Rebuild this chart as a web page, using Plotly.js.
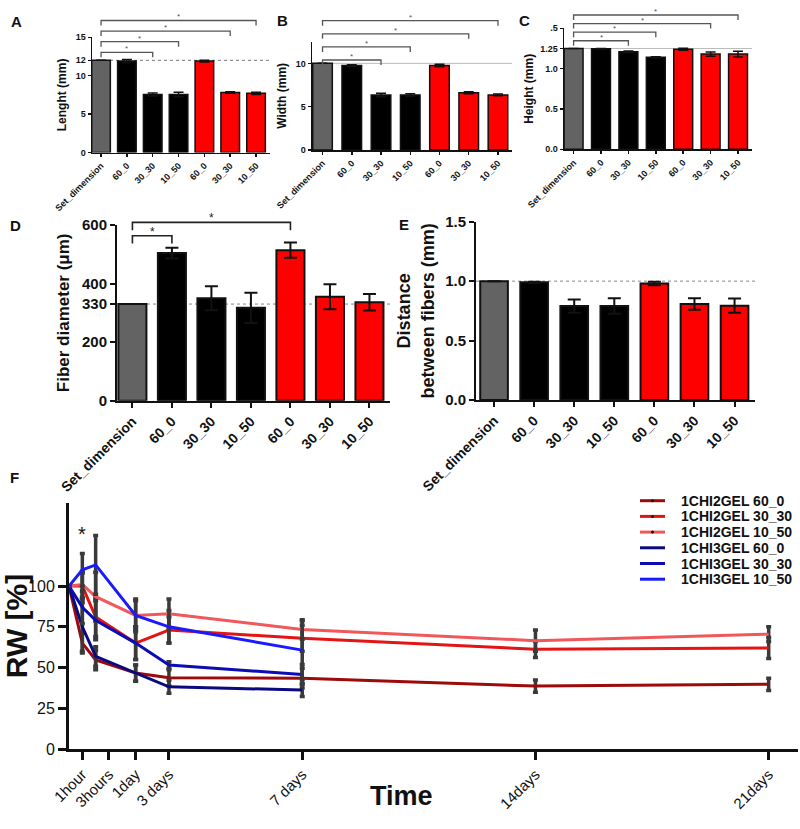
<!DOCTYPE html>
<html>
<head>
<meta charset="utf-8">
<script src="https://cdn.plot.ly/plotly-3.0.1.min.js"></script>
<style>
  html, body { margin: 0; padding: 0; background: #fff; }
  #fig { width: 800px; height: 829px; }
</style>
</head>
<body>
<div id="fig"></div>
<script>
// ── Data ─────────────────────────────────────────────────────────────────────
const categories = ['Set_dimension', '60_0', '30_30', '10_50', '60_0', '30_30', '10_50'];

const lengthMean = [12, 11.9, 7.55, 7.55, 11.9, 7.8, 7.7];
const lengthErr  = [null, 0.2, 0.2, 0.3, 0.1, 0.1, 0.15];
const widthMean  = [10, 9.75, 6.35, 6.35, 9.75, 6.6, 6.35];
const widthErr   = [null, 0.1, 0.2, 0.15, 0.15, 0.12, 0.1];
const heightMean = [1.25, 1.245, 1.21, 1.14, 1.24, 1.18, 1.18];
const heightErr  = [null, 0.005, 0.01, 0.008, 0.012, 0.025, 0.035];
const diamMean   = [330, 504, 350, 317, 514, 355, 336];
const diamErr    = [null, 18, 41, 52, 26, 43, 28];
const distMean   = [1.0, 0.99, 0.79, 0.79, 0.98, 0.807, 0.793];
const distErr    = [null, 0.005, 0.055, 0.065, 0.015, 0.048, 0.06];

// set dimensions (reference lines)
const setLength = 12, setWidth = 10, setHeight = 1.25, setDiam = 330, setDist = 1.0;

// significance pairs (bar indices)
const sigABC = [[0, 2], [0, 3], [0, 5], [0, 6]];
const sigD   = [[0, 1], [0, 4]];

// panel F
const timeLabels = ['1hour', '3hours', '1day', '3 days', '7 days', '14days', '21days'];
const timeTicks  = [0.4, 1.2, 2, 3, 7, 14, 21];
const timePoints = [0, 0.4, 0.8, 2, 3, 7, 14, 21];

const seriesNames = ['1CHI2GEL 60_0', '1CHI2GEL 30_30', '1CHI2GEL 10_50',
                     '1CHI3GEL 60_0', '1CHI3GEL 30_30', '1CHI3GEL 10_50'];
const rwMean = [
  [100, 65, 54.6, 46.6, 43.7, 43.5, 38.6, 39.7],
  [100, 100, 81, 65, 73, 68, 61.2, 62],
  [100, 101, 93.5, 82, 83, 73.4, 66.5, 70.5],
  [100, 75, 56.8, 46.6, 38.2, 36.2],
  [100, 87, 79, 65, 51.5, 45.8],
  [100, 110, 113, 82, 75, 60.7]
];
const rwErr = [
  [null, 6, 6, 5, 5, 6, 3.7, 3.8],
  [null, 8, 12, 10, 8, 8, 5, 6.5],
  [null, 8, 15, 9, 9, 6, 6.5, 4.5],
  [null, 15, 6, 5, 4, 4],
  [null, 10, 12, 10, 2, 6],
  [null, 10, 18, 10, 10, 18]
];
const seriesColors = ['#9c0a0a', '#e41414', '#f0585a', '#0a0a80', '#0c0cb4', '#1a1aff'];

// ── Helpers ─────────────────────────────────────────────────────────────────
const W = 800, H = 829;
const FONT = 'Liberation Sans, Arial, sans-serif';
const px = x => x / W;
const py = y => 1 - y / H;

const traces = [];
const shapes = [];
const annotations = [];
const layout = {
  width: W, height: H,
  margin: { l: 0, r: 0, t: 0, b: 0 },
  paper_bgcolor: '#fff', plot_bgcolor: 'rgba(0,0,0,0)',
  font: { family: FONT, color: '#111' },
  showlegend: false,
  bargap: 0
};

function axisIds(n) {
  const s = n === 1 ? '' : String(n);
  return { x: 'x' + s, y: 'y' + s, xa: 'xaxis' + s, ya: 'yaxis' + s };
}

function lineAxis(lw, tl) {
  return {
    showline: true, linecolor: '#111', linewidth: lw,
    ticks: 'outside', ticklen: tl, tickwidth: lw, tickcolor: '#111',
    showgrid: false, zeroline: false, automargin: false, fixedrange: true
  };
}

// ── Bar panels A–E ───────────────────────────────────────────────────────────
function barPanel(n, vals, errs, o) {
  const id = axisIds(n);
  const colors = vals.map((_, i) => i === 0 ? '#636363' : (i < 4 ? '#000' : '#ff0000'));
  traces.push({
    type: 'bar', x: categories.map((_, i) => i), y: vals,
    xaxis: id.x, yaxis: id.y, width: o.barW,
    marker: { color: colors, line: { color: '#111', width: o.lw } },
    error_y: { type: 'data', array: errs, visible: true, color: '#111', thickness: o.lw, width: o.errW },
    hoverinfo: 'skip'
  });
  layout[id.xa] = Object.assign(lineAxis(o.lw, o.tl), {
    domain: [px(o.box[0]), px(o.box[1])], range: o.xr, anchor: id.y,
    tickvals: categories.map((_, i) => i), ticktext: categories, tickangle: -45,
    tickfont: { size: o.xtf, weight: 'bold', family: FONT, color: '#111' }
  });
  layout[id.ya] = Object.assign(lineAxis(o.lw, o.tl), {
    domain: [py(o.box[3]), py(o.box[2])], range: [0, o.ymax], anchor: id.x,
    tickvals: o.yticks, ticktext: o.yticktext,
    tickfont: { size: o.ytf, weight: 'bold', family: FONT, color: '#111' },
    title: { text: o.title, font: { size: o.titleSize, weight: 'bold', family: FONT, color: '#111' }, standoff: o.standoff }
  });
  shapes.push({
    type: 'line', xref: id.x + ' domain', yref: id.y, x0: 0, x1: 1, y0: o.ref, y1: o.ref,
    line: { color: o.refColor, width: 1, dash: o.refDash }, layer: 'below'
  });
  if (o.sig) {
    o.sig.forEach(([a, b], k) => {
      const y = o.sigBase + k * o.sigStep;
      shapes.push({
        type: 'path', xref: id.x, yref: id.y + ' domain',
        path: `M ${a},${y - o.sigDrop} L ${a},${y} L ${b},${y} L ${b},${y - o.sigDrop}`,
        line: { color: o.sigColor, width: o.sigW }
      });
      annotations.push({
        xref: id.x, yref: id.y + ' domain', x: (a + b) / 2, y: y,
        text: '*', showarrow: false, yanchor: 'bottom', yshift: o.starShift,
        font: { size: o.starSize, color: o.sigColor, family: FONT }
      });
    });
  }
}

barPanel(1, lengthMean, lengthErr, {
  box: [92, 270, 37.3, 152.5], xr: [-0.35, 6.54], ymax: 15, barW: 0.72,
  yticks: [0, 5, 10, 12, 15], yticktext: ['0', '5', '10', '12', '15'],
  title: 'Lenght (mm)', titleSize: 12, standoff: 6, xtf: 9, ytf: 9,
  lw: 1.5, tl: 3, errW: 5, ref: setLength, refColor: '#777', refDash: 'dot',
  sig: sigABC, sigBase: 0.87, sigStep: 0.092, sigDrop: 0.043, sigColor: '#555', sigW: 1.3,
  starSize: 8, starShift: -3
});
barPanel(2, widthMean, widthErr, {
  box: [312, 512, 41.7, 150], xr: [-0.36, 6.48], ymax: 12.5, barW: 0.67,
  yticks: [0, 5, 10], yticktext: ['0', '5', '10'],
  title: 'Width (mm)', titleSize: 12, standoff: 6, xtf: 9, ytf: 9,
  lw: 1.5, tl: 3, errW: 5, ref: setWidth, refColor: '#bbb', refDash: 'solid',
  sig: sigABC, sigBase: 0.831, sigStep: 0.121, sigDrop: 0.046, sigColor: '#555', sigW: 1.3,
  starSize: 8, starShift: -3
});
barPanel(3, heightMean, heightErr, {
  box: [564, 752, 28.3, 149.3], xr: [-0.35, 6.51], ymax: 1.5, barW: 0.69,
  yticks: [0, 0.5, 1.0, 1.25, 1.5], yticktext: ['0.0', '0.5', '1.0', '1.25', '.5'],
  title: 'Height (mm)', titleSize: 12, standoff: 4, xtf: 9, ytf: 9,
  lw: 1.5, tl: 3, errW: 5, ref: setHeight, refColor: '#bbb', refDash: 'solid',
  sig: sigABC, sigBase: 0.897, sigStep: 0.071, sigDrop: 0.041, sigColor: '#555', sigW: 1.3,
  starSize: 8, starShift: -3
});
barPanel(4, diamMean, diamErr, {
  box: [117, 390, 225, 400.7], xr: [-0.39, 6.52], ymax: 600, barW: 0.71,
  yticks: [0, 200, 330, 400, 600], yticktext: ['0', '200', '330', '400', '600'],
  title: 'Fiber diameter (μm)', titleSize: 17, standoff: 8, xtf: 14, ytf: 15,
  lw: 2, tl: 5, errW: 6.5, ref: setDiam, refColor: '#888', refDash: 'dot',
  sig: sigD, sigBase: 0.939, sigStep: 0.076, sigDrop: 0.045, sigColor: '#222', sigW: 1.6,
  starSize: 12, starShift: -5
});
barPanel(5, distMean, distErr, {
  box: [476, 755, 221.7, 400], xr: [-0.45, 6.51], ymax: 1.5, barW: 0.69,
  yticks: [0, 0.5, 1.0, 1.5], yticktext: ['0.0', '0.5', '1.0', '1.5'],
  title: 'Distance<br>between fibers (mm)', titleSize: 18, standoff: 6, xtf: 14, ytf: 15,
  lw: 2, tl: 5, errW: 6.5, ref: setDist, refColor: '#888', refDash: 'dot'
});

// ── Panel F: RW over time ────────────────────────────────────────────────────
seriesNames.forEach((name, i) => {
  traces.push({
    type: 'scatter', mode: 'lines', name: name,
    x: timePoints.slice(0, rwMean[i].length), y: rwMean[i],
    xaxis: 'x6', yaxis: 'y6',
    line: { color: seriesColors[i], width: 3 },
    error_y: { type: 'data', array: rwErr[i], visible: true, color: '#3a3a3a', thickness: 3.5, width: 2.5 },
    hoverinfo: 'skip'
  });
});

layout.xaxis6 = Object.assign(lineAxis(3, 8), {
  domain: [px(69), px(798)], range: [0, 21.88], anchor: 'y6',
  tickvals: timeTicks, ticktext: timeLabels, tickangle: -45,
  tickfont: { size: 15, family: FONT, color: '#111' }
});
layout.yaxis6 = Object.assign(lineAxis(3, 8), {
  domain: [py(749), py(503)], range: [0, 151], anchor: 'x6',
  tickvals: [0, 25, 50, 75, 100],
  tickfont: { size: 16, family: FONT, color: '#111' },
  title: { text: 'RW [%]', font: { size: 30, weight: 'bold', family: FONT, color: '#111' }, standoff: 8 }
});

annotations.push({
  xref: 'x6', yref: 'y6', x: timeTicks[0], y: 124, text: '*', showarrow: false,
  yanchor: 'bottom', font: { size: 20, family: FONT, color: '#111' }
});
annotations.push({
  xref: 'paper', yref: 'paper', x: px(401), y: py(813), text: 'Time', showarrow: false,
  font: { size: 27, weight: 'bold', family: FONT, color: '#111' }
});

// legend (drawn by hand so that the rows sit as tightly as in the figure)
seriesNames.forEach((name, i) => {
  const yy = 500.7 + i * 15.7;
  shapes.push({
    type: 'line', xref: 'paper', yref: 'paper', x0: px(640), x1: px(665), y0: py(yy), y1: py(yy),
    line: { color: seriesColors[i], width: 3 }
  });
  if (i < 3) {
    shapes.push({
      type: 'circle', xref: 'paper', yref: 'paper', x0: px(651), x1: px(654), y0: py(yy + 1.5), y1: py(yy - 1.5),
      fillcolor: '#111', line: { width: 0 }
    });
  }
  annotations.push({
    xref: 'paper', yref: 'paper', x: px(679), y: py(yy), xanchor: 'left', yanchor: 'middle',
    text: name, showarrow: false,
    font: { size: 14, weight: 'bold', family: FONT, color: '#111' }
  });
});

// panel letters
[['A', 9, 11], ['B', 282, 10], ['C', 524, 10], ['D', 8, 215], ['E', 404, 214], ['F', 8, 477]]
  .forEach(([t, x, y]) => annotations.push({
    xref: 'paper', yref: 'paper', x: px(x), y: py(y), text: t, showarrow: false,
    font: { size: 15, weight: 'bold', family: FONT, color: '#111' }
  }));

layout.shapes = shapes;
layout.annotations = annotations;

Plotly.newPlot('fig', traces, layout, { displayModeBar: false, staticPlot: true });
</script>
</body>
</html>
